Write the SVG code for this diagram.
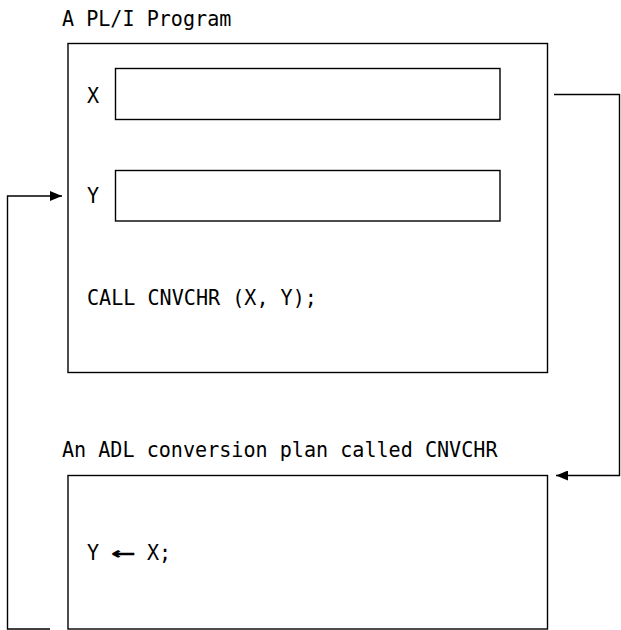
<svg xmlns="http://www.w3.org/2000/svg" width="621" height="630" viewBox="0 0 621 630">
<style>
  .box { fill: none; stroke: #000; stroke-width: 1.4; }
  .conn { fill: none; stroke: #000; stroke-width: 1.4; }
  text { font-family: "DejaVu Sans Mono", "Liberation Mono", monospace; font-size: 22px; fill: #000; }
</style>
<defs>
  <marker id="arrow" viewBox="0 0 12 10" refX="12" refY="5" markerWidth="12" markerHeight="10" markerUnits="userSpaceOnUse" orient="auto">
    <path d="M0,0 L12,5 L0,10 Z" fill="#000"/>
  </marker>
</defs>
<rect width="621" height="630" fill="#fff"/>
<g id="pli-program">
  <rect class="box" x="68" y="43.5" width="479.5" height="329"/>
  <g id="field-x">
    <rect class="box" x="115.5" y="68.5" width="384.5" height="51"/>
  </g>
  <g id="field-y">
    <rect class="box" x="115.5" y="170.5" width="384.5" height="50.5"/>
  </g>
  <g transform="scale(0.914,1)">
    <text x="67.8" y="26">A PL/I Program</text>
    <text x="95.2" y="103">X</text>
    <text x="95.2" y="203">Y</text>
    <text x="95.2" y="305">CALL CNVCHR (X, Y);</text>
  </g>
</g>
<g id="adl-plan">
  <rect class="box" x="68" y="475.5" width="479.5" height="153.5"/>
  <g transform="scale(0.914,1)">
    <text x="67.8" y="457">An ADL conversion plan called CNVCHR</text>
    <text><tspan x="95.2" y="560">Y</tspan><tspan x="121" y="560" font-weight="bold" textLength="27" lengthAdjust="spacingAndGlyphs">←</tspan><tspan x="160.8" y="560">X;</tspan></text>
  </g>
</g>
<g id="connectors">
  <polyline class="conn" points="554,94.5 619.5,94.5 619.5,475.5 556,475.5" marker-end="url(#arrow)"/>
  <polyline class="conn" points="50,629 7.5,629 7.5,196 62,196" marker-end="url(#arrow)"/>
</g>
</svg>
